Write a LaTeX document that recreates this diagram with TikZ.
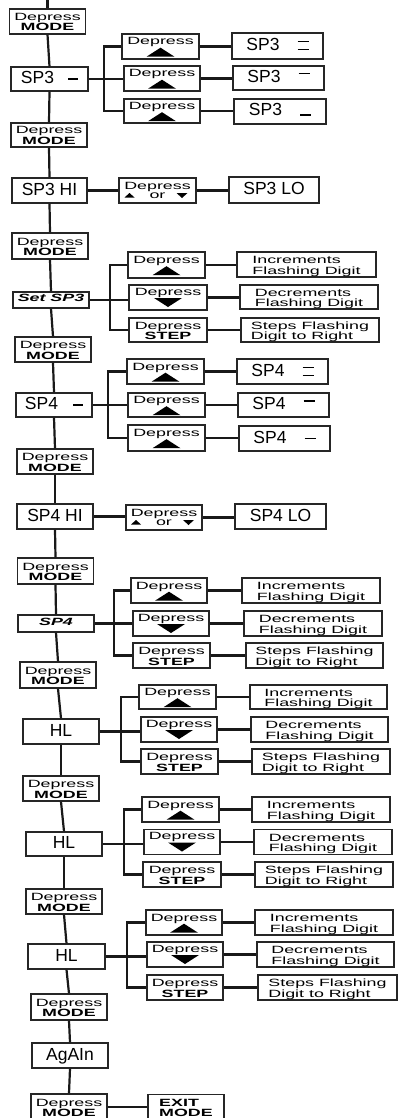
\documentclass[tikz,border=0pt]{standalone}
\usepackage{fontspec}
\setmainfont{Liberation Sans}
\newfontfamily\smfam[FakeStretch=1.7]{Liberation Sans}
\newfontfamily\bgfam{Liberation Sans}
\newcommand\smtxt{\smfam\fontsize{10.5}{10.5}\selectfont}
\newcommand\bgtxt{\bgfam\fontsize{17.5}{20}\selectfont}
\newcommand\barTop{\rule[8pt]{11pt}{1.5pt}}
\newcommand\barMid{\rule[3.6pt]{10pt}{1.5pt}}
\newcommand\barBot{\rule[0pt]{11pt}{1.5pt}}
\newcommand\barTB{\rlap{\barTop}\barBot}
\newcommand\uptri[1]{\fill[shift={(#1.center)}] (-14,10.2) -- (14,10.2) -- (0,1.2) -- cycle;}
\newcommand\dntri[1]{\fill[shift={(#1.center)}] (-14,0.5) -- (14,0.5) -- (0,9.5) -- cycle;}
\newcommand\ortris[1]{\fill[shift={(#1.center)}] (-33,7) -- (-23,7) -- (-28,2.5) -- cycle;
  \fill[shift={(#1.center)}] (19,2.5) -- (30,2.5) -- (24.5,7.5) -- cycle;}
\newcommand\link[2]{\draw[wire] (#1.east) -- (#1.east -| #2.west);}
\newcommand\branch[5]{\draw[wire] (#1.east) -- (#1.east -| #4.west);
  \draw[wire] (#3.west) -- (#3.west -| #2) -- (#5.west -| #2) -- (#5.west);}
\tikzset{
  box/.style={draw=black!85, line width=1.2pt, fill=white, inner sep=0pt,
    minimum width=76pt, minimum height=25pt},
  big/.style={box, font=\bgtxt, text height=12.5pt, text depth=3.5pt},
  two/.style={box, font=\smtxt, align=center, text height=19pt, text depth=0pt},
  res/.style={box, font=\smtxt, align=left, text height=19pt, text depth=0pt,
    minimum width=138pt},
  tup/.style={box, font=\smtxt, text height=8pt, text depth=11pt},
  tdn/.style={box, font=\smtxt, text height=8pt, text depth=13pt},
  orbox/.style={box, font=\smtxt, align=center, text height=15pt, text depth=0pt},
  lbl/.style={box, font=\smtxt\bfseries\itshape, text height=8pt, text depth=4.4pt},
  wire/.style={line width=2.2pt, black!90},
}
\begin{document}
\begin{tikzpicture}[x=1pt,y=-1pt]
\useasboundingbox (0,0) rectangle (409,1118);
\clip (0,0) rectangle (409,1118);
\coordinate (top) at (47.5,0);
% ---------- spine ----------
\node[two] (m1) at (47.5,21.5) {Depress\\\textbf{MODE}};
\node[big, minimum height=24pt, minimum width=77pt] (sp3) at (49.5,79) {SP3\hspace{14pt}\barMid};
\node[two, minimum height=24pt] (m2) at (49,135) {Depress\\\textbf{MODE}};
\node[big, minimum width=75pt] (sp3hi) at (49.5,190.5) {SP3 HI};
\node[two, minimum height=26pt] (m3) at (50,246) {Depress\\\textbf{MODE}};
\node[lbl, minimum height=16pt] (set3) at (51,300) {Set SP3};
\node[two] (m4) at (53,349.5) {Depress\\\textbf{MODE}};
\node[big, minimum height=24pt] (sp4) at (54,405) {SP4\hspace{15pt}\barMid};
\node[two] (m5) at (55,461.5) {Depress\\\textbf{MODE}};
\node[big] (sp4hi) at (55,516.5) {SP4 HI};
\node[two, minimum height=26pt] (m6) at (55.5,571) {Depress\\\textbf{MODE}};
\node[lbl, minimum height=17pt, text depth=3.6pt] (set4) at (56,623.5) {SP4\hspace{20pt}};
\node[two, minimum height=26pt] (m7) at (58,675) {Depress\\\textbf{MODE}};
\node[big] (hl1) at (61,731.5) {HL};
\node[two] (m8) at (61,788.5) {Depress\\\textbf{MODE}};
\node[big, minimum height=24pt] (hl2) at (64,844) {HL};
\node[two] (m9) at (64,901.5) {Depress\\\textbf{MODE}};
\node[big, minimum width=77pt] (hl3) at (66.5,956.5) {HL};
\node[two, minimum height=26pt] (m10) at (69,1007) {Depress\\\textbf{MODE}};
\node[big] (again) at (70,1055.5) {AgAIn};
\node[two, minimum height=26pt] (m11) at (69,1107) {Depress\\\textbf{MODE}};
\node[two, align=left] (exit) at (186,1107) {\textbf{EXIT}\\\textbf{MODE}};
% ---------- SP3 - group ----------
\coordinate (b1) at (104,0);
\node[tup, minimum width=77pt] (a1) at (160.5,46.5) {Depress};
\node[tup] (a2) at (162,78.5) {Depress};
\node[tup, minimum height=24pt] (a3) at (162,111) {Depress};
\node[big, minimum width=91pt, minimum height=26pt] (ar1) at (277.5,46) {SP3\hspace{18pt}\barTB};
\node[big, minimum width=91pt, minimum height=24pt] (ar2) at (278.5,78) {SP3\hspace{18pt}\barTop};
\node[big, minimum width=92pt] (ar3) at (280,111.5) {SP3\hspace{18pt}\barBot};
% ---------- SP3 HI group ----------
\node[orbox, minimum width=77pt] (o1) at (157.5,190.5) {Depress\\[-1.5pt]or};
\node[big, minimum width=90pt, minimum height=26pt] (lo1) at (274,190) {SP3 LO};
% ---------- Set SP3 group ----------
\coordinate (b3) at (110,0);
\node[tup, minimum width=77pt, minimum height=26pt] (c1) at (166.5,265) {Depress};
\node[tdn, minimum width=78pt] (c2) at (168,297.5) {Depress};
\node[two, minimum width=78pt, minimum height=24pt] (c3) at (168,330) {Depress\\\textbf{STEP}};
\node[res, minimum width=139pt] (cr1) at (306.5,264.5) {Increments\\Flashing Digit};
\node[res, minimum height=24pt] (cr2) at (309,297) {Decrements\\Flashing Digit};
\node[res, minimum height=24pt] (cr3) at (310,330) {Steps Flashing\\Digit to Right};
% ---------- SP4 - group ----------
\coordinate (b4) at (108,0);
\node[tup, minimum width=77pt] (e1) at (165.5,371.5) {Depress};
\node[tup, minimum width=77pt, minimum height=24pt] (e2) at (166.5,405) {Depress};
\node[tup, minimum width=77pt, minimum height=26pt] (e3) at (166.5,438) {Depress};
\node[big, minimum width=91pt] (er1) at (282.5,371.5) {SP4\hspace{18pt}\barTB};
\node[big, minimum width=91pt, minimum height=24pt] (er2) at (283.5,405) {SP4\hspace{18pt}\barTop};
\node[big, minimum width=91pt] (er3) at (284.5,438.5) {SP4\hspace{18pt}\rule[3.6pt]{11pt}{1.5pt}};
% ---------- SP4 HI group ----------
\node[orbox] (o2) at (164,517.5) {Depress\\[-1.5pt]or};
\node[big, minimum width=91pt] (lo2) at (280.5,516.5) {SP4 LO};
% ---------- SP4 group ----------
\coordinate (b6) at (114,0);
\node[tup] (f1) at (169,590.5) {Depress};
\node[tdn] (f2) at (171,623.5) {Depress};
\node[two, minimum width=77pt] (f3) at (171.5,655.5) {Depress\\\textbf{STEP}};
\node[res] (fr1) at (311,590.5) {Increments\\Flashing Digit};
\node[res] (fr2) at (313,623.5) {Decrements\\Flashing Digit};
\node[res, minimum width=137pt] (fr3) at (314.5,655.5) {Steps Flashing\\Digit to Right};
% ---------- HL 1 group ----------
\coordinate (b7) at (121,0);
\node[tup, minimum width=77pt, minimum height=24pt] (g1) at (177.5,697) {Depress};
\node[tdn] (g2) at (179,729.5) {Depress};
\node[two, minimum width=77pt] (g3) at (179.5,761.5) {Depress\\\textbf{STEP}};
\node[res, minimum width=137pt, minimum height=24pt] (gr1) at (318.5,697) {Increments\\Flashing Digit};
\node[res, minimum width=137pt] (gr2) at (319.5,729.5) {Decrements\\Flashing Digit};
\node[res] (gr3) at (321,761.5) {Steps Flashing\\Digit to Right};
% ---------- HL 2 group ----------
\coordinate (b8) at (124,0);
\node[tup, minimum width=77pt] (h1) at (180.5,809.5) {Depress};
\node[tdn] (h2) at (182,842) {Depress};
\node[two, minimum width=78pt] (h3) at (182,874.5) {Depress\\\textbf{STEP}};
\node[res] (hr1) at (321,809.5) {Increments\\Flashing Digit};
\node[res] (hr2) at (323,842) {Decrements\\Flashing Digit};
\node[res] (hr3) at (324,874.5) {Steps Flashing\\Digit to Right};
% ---------- HL 3 group ----------
\coordinate (b9) at (127,0);
\node[tup] (k1) at (184,922.5) {Depress};
\node[tdn] (k2) at (185,954.5) {Depress};
\node[two] (k3) at (185,987.5) {Depress\\\textbf{STEP}};
\node[res] (kr1) at (324,922.5) {Increments\\Flashing Digit};
\node[res, minimum width=137pt] (kr2) at (325.5,954.5) {Decrements\\Flashing Digit};
\node[res, minimum width=139pt] (kr3) at (327.5,987.5) {Steps Flashing\\Digit to Right};
% ---------- triangles ----------
\uptri{a1} \uptri{a2} \uptri{a3}
\uptri{c1} \dntri{c2}
\uptri{e1} \uptri{e2} \uptri{e3}
\uptri{f1} \dntri{f2}
\uptri{g1} \dntri{g2}
\uptri{h1} \dntri{h2}
\uptri{k1} \dntri{k2}
\ortris{o1} \ortris{o2}
% ---------- spine wires ----------
\draw[wire] (top) -- (m1.north);
\foreach \a/\b in {m1/sp3, sp3/m2, m2/sp3hi, sp3hi/m3, m3/set3, set3/m4, m4/sp4,
  sp4/m5, m5/sp4hi, sp4hi/m6, m6/set4, set4/m7, m7/hl1, hl1/m8, m8/hl2, hl2/m9,
  m9/hl3, hl3/m10, m10/again, again/m11}
  \draw[wire] (\a.south) -- (\b.north);
% ---------- branch wires ----------
\branch{sp3}{b1}{a1}{a2}{a3}
\link{a1}{ar1} \link{a2}{ar2} \link{a3}{ar3}
\link{sp3hi}{o1} \link{o1}{lo1}
\branch{set3}{b3}{c1}{c2}{c3}
\link{c1}{cr1} \link{c2}{cr2} \link{c3}{cr3}
\branch{sp4}{b4}{e1}{e2}{e3}
\link{e1}{er1} \link{e2}{er2} \link{e3}{er3}
\link{sp4hi}{o2} \link{o2}{lo2}
\branch{set4}{b6}{f1}{f2}{f3}
\link{f1}{fr1} \link{f2}{fr2} \link{f3}{fr3}
\branch{hl1}{b7}{g1}{g2}{g3}
\link{g1}{gr1} \link{g2}{gr2} \link{g3}{gr3}
\branch{hl2}{b8}{h1}{h2}{h3}
\link{h1}{hr1} \link{h2}{hr2} \link{h3}{hr3}
\branch{hl3}{b9}{k1}{k2}{k3}
\link{k1}{kr1} \link{k2}{kr2} \link{k3}{kr3}
\link{m11}{exit}
\end{tikzpicture}
\end{document}
